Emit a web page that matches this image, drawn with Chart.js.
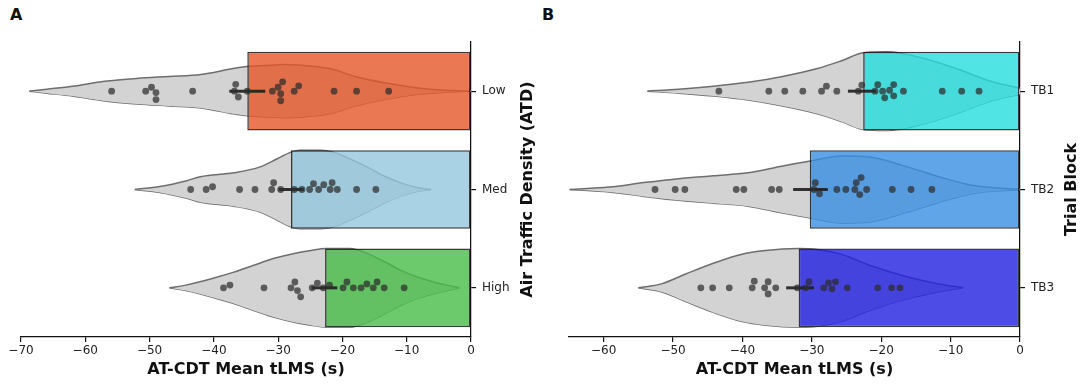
<!DOCTYPE html>
<html>
<head>
<meta charset="utf-8">
<script src="https://cdn.jsdelivr.net/npm/chart.js@4"></script>
<style>
  body { margin: 0; background: #fff; width: 1084px; height: 385px; overflow: hidden; position: relative; }
  canvas { position: absolute; top: 0; }
  .tag { position: absolute; top: 5px; font: bold 16px "DejaVu Sans", sans-serif; color: #111; }
</style>
</head>
<body>
<div class="tag" style="left:10px">A</div>
<div class="tag" style="left:542px">B</div>
<canvas id="chartA" width="542" height="385" style="left:0"></canvas>
<canvas id="chartB" width="542" height="385" style="left:542px"></canvas>
<script>
// Panel A - Air Traffic Density
const atdCategories = ['Low', 'Med', 'High'];
const atdMeans = [-34.8, -28.0, -22.7];
const atdCiLower = [-37.6, -29.9, -24.8];
const atdCiUpper = [-32.0, -26.0, -20.8];
const atdPoints = [
    [-55.9, -50.6, -49.7, -49.0, -49.0, -43.3, -36.6, -36.8, -36.2, -34.8, -30.9, -30.0, -29.3, -29.6, -29.6, -27.5, -26.8, -21.3, -17.8, -12.8],
    [-43.6, -41.2, -40.2, -36.0, -33.6, -31.0, -30.7, -29.6, -27.5, -26.3, -25.1, -24.5, -23.7, -22.9, -21.9, -21.6, -20.8, -17.8, -14.8],
    [-38.5, -37.5, -32.2, -28.0, -27.4, -27.0, -26.5, -24.7, -23.9, -23.0, -22.0, -19.9, -19.3, -18.3, -17.1, -16.2, -15.2, -14.6, -13.5, -10.4]
];
// violin outline: values along x and half width (in category units)
const atdViolinX = [
    [-68.7, -66, -62, -57, -52, -47, -42, -37, -34.8, -32, -29, -26, -22, -18, -13, -8, -4, 0],
    [-52.3, -48.4, -44.2, -42.1, -36.9, -32.8, -30.2, -28.0, -26.6, -23.4, -21.4, -18.8, -16.2, -13.6, -11.0, -8.4, -6.2],
    [-46.9, -44.2, -40.0, -36.9, -33.8, -30.6, -27.5, -24.9, -22.6, -21.4, -18.8, -16.2, -13.6, -11.0, -8.4, -5.8, -3.2, -1.8]
];
const atdViolinW = [
    [0, 0.02, 0.05, 0.10, 0.13, 0.15, 0.17, 0.23, 0.25, 0.26, 0.27, 0.26, 0.23, 0.15, 0.08, 0.03, 0.01, 0],
    [0, 0.03, 0.09, 0.13, 0.17, 0.23, 0.31, 0.38, 0.40, 0.40, 0.38, 0.31, 0.23, 0.14, 0.07, 0.02, 0],
    [0, 0.03, 0.10, 0.16, 0.23, 0.30, 0.35, 0.38, 0.40, 0.40, 0.40, 0.35, 0.27, 0.18, 0.11, 0.06, 0.02, 0]
];
const atdColors = ['rgba(227,86,40,0.8)', 'rgba(148,199,221,0.8)', 'rgba(71,187,71,0.8)'];
const atdTicks = [-70, -60, -50, -40, -30, -20, -10, 0];

// Panel B - Trial Block
const tbCategories = ['TB1', 'TB2', 'TB3'];
const tbMeans = [-22.6, -30.3, -31.9];
const tbCiLower = [-24.8, -32.7, -33.7];
const tbCiUpper = [-20.7, -27.7, -29.7];
const tbPoints = [
    [-43.4, -36.2, -33.9, -31.3, -28.6, -27.9, -26.4, -23.3, -22.8, -20.9, -20.5, -19.8, -19.5, -18.8, -18.2, -18.2, -16.8, -11.2, -8.4, -5.9],
    [-52.6, -49.7, -48.3, -40.9, -39.8, -35.8, -34.7, -29.7, -29.5, -28.9, -26.4, -25.1, -23.8, -23.6, -23.1, -22.9, -22.1, -18.4, -15.7, -12.7],
    [-46.0, -44.3, -41.9, -38.6, -38.3, -36.8, -36.3, -36.3, -35.2, -32.1, -30.9, -30.4, -28.3, -27.6, -27.1, -26.6, -24.9, -20.5, -18.5, -17.3]
];
const tbViolinX = [
    [-53.7, -49.2, -44.2, -39.2, -34.2, -29.2, -25.7, -22.6, -19.2, -14.2, -9.2, -4.2, 0],
    [-64.9, -59.2, -54.2, -49.2, -44.2, -39.2, -34.2, -30.2, -25.7, -21.7, -16.7, -11.7, -6.7, 0],
    [-55.0, -51.7, -48.2, -44.2, -40.2, -36.7, -31.9, -29.2, -25.7, -21.7, -16.7, -11.7, -8.2]
];
const tbViolinW = [
    [0, 0.02, 0.05, 0.09, 0.15, 0.23, 0.31, 0.39, 0.40, 0.34, 0.23, 0.10, 0.03],
    [0, 0.025, 0.07, 0.11, 0.14, 0.17, 0.24, 0.29, 0.34, 0.33, 0.24, 0.13, 0.04, 0],
    [0, 0.04, 0.14, 0.25, 0.34, 0.38, 0.40, 0.39, 0.34, 0.23, 0.12, 0.04, 0]
];
const tbColors = ['rgba(36,221,221,0.8)', 'rgba(55,143,226,0.8)', 'rgba(34,31,224,0.8)'];
const tbTicks = [-60, -50, -40, -30, -20, -10, 0];

Chart.defaults.font.family = '"DejaVu Sans", sans-serif';
Chart.defaults.font.size = 12;
Chart.defaults.color = '#222';

// rotated title on the right side (reads bottom to top)
const rightTitle = {
    id: 'rightTitle',
    afterDraw(chart, args, opts) {
        const { ctx, chartArea } = chart;
        ctx.save();
        ctx.font = 'bold 16px "DejaVu Sans", sans-serif';
        ctx.fillStyle = '#111';
        ctx.textAlign = 'center';
        ctx.textBaseline = 'middle';
        ctx.translate(chartArea.right + opts.offset, (chartArea.top + chartArea.bottom) / 2);
        ctx.rotate(-Math.PI / 2);
        ctx.fillText(opts.text, 0, 0);
        ctx.restore();
    }
};

const minus = v => (v < 0 ? '\u2212' + Math.abs(v) : String(v));

// simple beeswarm in pixel space
function swarm(values, center, xs, ys, d) {
    const placed = [];
    const out = new Array(values.length);
    const cy = ys.getPixelForValue(center);
    const order = values.map((v, i) => ({ v, i })).sort((a, b) => a.v - b.v);
    order.forEach(p => {
        const px = xs.getPixelForValue(p.v);
        const near = placed.filter(q => Math.abs(q.px - px) < d);
        const cands = [0];
        near.forEach(q => {
            const dy = Math.sqrt(d * d - (q.px - px) ** 2);
            cands.push(q.off - dy, q.off + dy);
        });
        cands.sort((a, b) => Math.abs(a) - Math.abs(b));
        const off = cands.find(c => near.every(q => (q.px - px) ** 2 + (q.off - c) ** 2 >= d * d - 0.01));
        placed.push({ px, off });
        out[p.i] = { x: p.v, y: ys.getValueForPixel(cy + off) };
    });
    return out;
}

function makePanel(id, p) {
    const datasets = [];
    p.categories.forEach((c, i) => {
        datasets.push({
            type: 'line',
            data: p.violinX[i].map((x, k) => ({ x: x, y: i - p.violinW[i][k] })),
            fill: '+1',
            backgroundColor: '#d3d3d3',
            borderColor: '#6e6e6e',
            borderWidth: 1.5,
            pointRadius: 0,
            cubicInterpolationMode: 'monotone',
            order: 4
        });
        datasets.push({
            type: 'line',
            data: p.violinX[i].map((x, k) => ({ x: x, y: i + p.violinW[i][k] })),
            fill: false,
            borderColor: '#6e6e6e',
            borderWidth: 1.5,
            pointRadius: 0,
            cubicInterpolationMode: 'monotone',
            order: 4
        });
    });
    datasets.push({
        type: 'bar',
        indexAxis: 'y',
        data: p.means.map((m, i) => ({ x: m, y: i })),
        backgroundColor: p.colors,
        borderColor: 'rgba(25,25,25,0.85)',
        borderWidth: 1.5,
        borderSkipped: false,
        categoryPercentage: 1,
        barPercentage: 0.8,
        order: 3
    });
    p.categories.forEach((c, i) => {
        datasets.push({
            type: 'line',
            data: [{ x: p.ciLower[i], y: i }, { x: p.ciUpper[i], y: i }],
            borderColor: 'rgba(30,30,30,0.9)',
            borderWidth: 3,
            pointRadius: 0,
            fill: false,
            order: 2
        });
    });
    const pointIdx = [];
    p.points.forEach((vals, i) => {
        pointIdx.push(datasets.length);
        datasets.push({
            type: 'scatter',
            data: vals.map(v => ({ x: v, y: i })),
            backgroundColor: 'rgba(45,45,45,0.72)',
            borderWidth: 0,
            pointRadius: 3.4,
            order: 1
        });
    });

    const chart = new Chart(document.getElementById(id), {
        type: 'line',
        data: { datasets: datasets },
        plugins: [rightTitle],
        options: {
            responsive: false,
            animation: false,
            events: [],
            layout: { padding: { left: p.padLeft, top: 42, right: 0, bottom: 0 } },
            scales: {
                x: {
                    type: 'linear',
                    offset: false,
                    min: p.xMin,
                    max: 0,
                    afterBuildTicks: s => { s.ticks = p.ticks.map(v => ({ value: v })); },
                    afterFit: s => { s.height = 48; },
                    ticks: { callback: v => minus(v), padding: 2, color: '#222', font: { size: 12 } },
                    grid: { offset: false, drawOnChartArea: false, drawTicks: true, tickLength: 5, color: '#111', lineWidth: 1.2 },
                    border: { display: true, color: '#111', width: 1.25 },
                    title: { display: true, text: 'AT-CDT Mean tLMS (s)', font: { size: 16, weight: 'bold' }, color: '#111', padding: { top: 0, bottom: 6 } }
                },
                y: {
                    type: 'linear',
                    position: 'right',
                    offset: false,
                    reverse: true,
                    min: -0.5,
                    max: 2.5,
                    afterBuildTicks: s => { s.ticks = p.categories.map((c, i) => ({ value: i })); },
                    afterFit: s => { s.width = p.axisWidth; },
                    ticks: { callback: v => p.categories[v], padding: 6, color: '#222', font: { size: 12 } },
                    grid: { offset: false, drawOnChartArea: false, drawTicks: true, tickLength: 5, color: '#111', lineWidth: 1.2 },
                    border: { display: true, color: '#111', width: 1.25 }
                }
            },
            plugins: {
                legend: { display: false },
                tooltip: { enabled: false },
                rightTitle: { text: p.yTitle, offset: p.titleOffset }
            }
        }
    });

    // place the swarm points using the chart's own scales
    const xs = chart.scales.x, ys = chart.scales.y;
    p.points.forEach((vals, i) => {
        chart.data.datasets[pointIdx[i]].data = swarm(vals, i, xs, ys, 7);
    });
    chart.update('none');
    return chart;
}

makePanel('chartA', {
    categories: atdCategories, means: atdMeans, ciLower: atdCiLower, ciUpper: atdCiUpper,
    points: atdPoints, violinX: atdViolinX, violinW: atdViolinW, colors: atdColors,
    ticks: atdTicks, xMin: -70, padLeft: 21, axisWidth: 71,
    yTitle: 'Air Traffic Density (ATD)', titleOffset: 57
});

makePanel('chartB', {
    categories: tbCategories, means: tbMeans, ciLower: tbCiLower, ciUpper: tbCiUpper,
    points: tbPoints, violinX: tbViolinX, violinW: tbViolinW, colors: tbColors,
    ticks: tbTicks, xMin: -65, padLeft: 27, axisWidth: 64,
    yTitle: 'Trial Block', titleOffset: 52
});
</script>
</body>
</html>
